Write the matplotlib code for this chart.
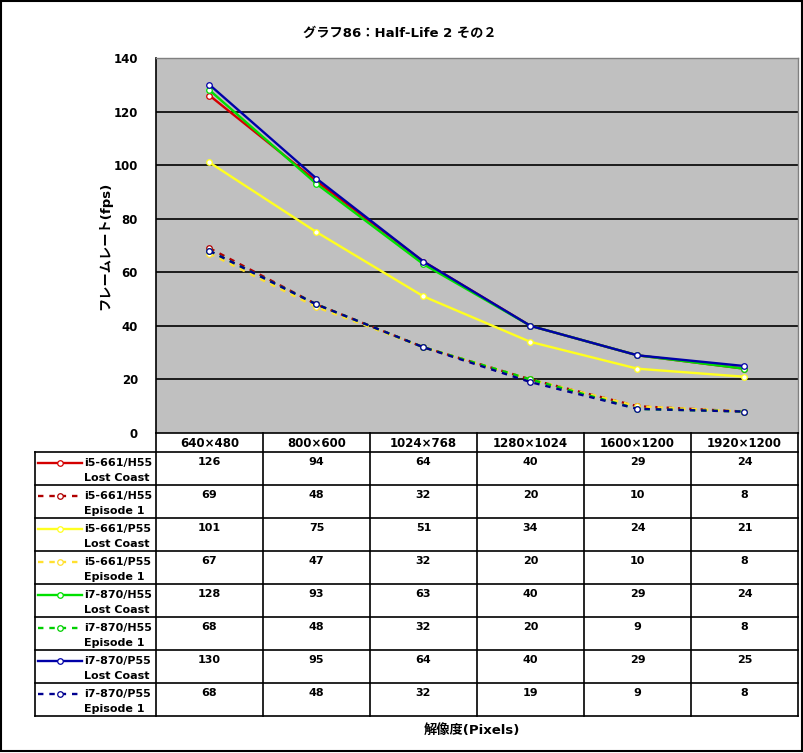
import matplotlib
matplotlib.use("Agg")
import matplotlib.pyplot as plt
from matplotlib.patches import Rectangle

plt.rcParams['font.family'] = ['DejaVu Sans', 'Noto Sans CJK JP']

title = "グラフ86：Half-Life 2 その２"
ylabel = "フレームレート(fps)"
xlabel = "解像度(Pixels)"
resolutions = ["640×480", "800×600", "1024×768", "1280×1024", "1600×1200", "1920×1200"]
series_names = [
    "i5-661/H55\nLost Coast", "i5-661/H55\nEpisode 1",
    "i5-661/P55\nLost Coast", "i5-661/P55\nEpisode 1",
    "i7-870/H55\nLost Coast", "i7-870/H55\nEpisode 1",
    "i7-870/P55\nLost Coast", "i7-870/P55\nEpisode 1",
]
i5_h55_lc = [126, 94, 64, 40, 29, 24]
i5_h55_ep1 = [69, 48, 32, 20, 10, 8]
i5_p55_lc = [101, 75, 51, 34, 24, 21]
i5_p55_ep1 = [67, 47, 32, 20, 10, 8]
i7_h55_lc = [128, 93, 63, 40, 29, 24]
i7_h55_ep1 = [68, 48, 32, 20, 9, 8]
i7_p55_lc = [130, 95, 64, 40, 29, 25]
i7_p55_ep1 = [68, 48, 32, 19, 9, 8]
series_values = [i5_h55_lc, i5_h55_ep1, i5_p55_lc, i5_p55_ep1,
                 i7_h55_lc, i7_h55_ep1, i7_p55_lc, i7_p55_ep1]
colors = ['#D40000', '#B00000', '#FFFF20', '#FFE030',
          '#00E000', '#00D000', '#0000A8', '#000090']
dash = (0, (2.3, 2.5))
styles = ['-', dash, '-', dash, '-', dash, '-', dash]

W, H = 804, 753
fig = plt.figure(figsize=(W / 100, H / 100), dpi=100)

def fx(px): return px / W
def fy(py): return 1 - py / H

L, R, T, B = 156, 798, 58, 433
ax = fig.add_axes([fx(L), fy(B), fx(R) - fx(L), fy(T) - fy(B)])
ax.set_facecolor('#C0C0C0')
xs = list(range(len(resolutions)))
ax.set_xlim(-0.5, len(resolutions) - 0.5)
ax.set_ylim(0, 140)
ax.set_yticks(range(0, 141, 20))
ax.set_yticklabels([str(v) for v in range(0, 141, 20)], fontsize=8.5, fontweight='bold')
ax.set_xticks([])
ax.tick_params(axis='y', length=0, pad=13)
for y in range(20, 140, 20):
    ax.axhline(y, color='black', lw=1.2, zorder=1)
for s in ['top', 'right']:
    ax.spines[s].set_color('#808080')
    ax.spines[s].set_linewidth(1)
ax.spines['left'].set_color('black')
ax.spines['bottom'].set_color('black')
ax.spines['left'].set_linewidth(1.2)
ax.spines['bottom'].set_linewidth(1.2)

draw_order = [1, 3, 5, 7, 2, 0, 4, 6]
for i in draw_order:
    ax.plot(xs, series_values[i], color=colors[i], linestyle=styles[i], lw=1.7,
            marker='o', markersize=4, markerfacecolor='white',
            markeredgecolor=colors[i], markeredgewidth=0.9, zorder=3)
ax.set_ylabel(ylabel, fontsize=9.5, fontweight='bold')
ax.yaxis.set_label_coords((112 - L) / (R - L), 0.5)

ov = fig.add_axes([0, 0, 1, 1], facecolor='none')
ov.set_xlim(0, W)
ov.set_ylim(H, 0)
ov.axis('off')

ov.add_patch(Rectangle((0.5, 0.5), W - 2.5, H - 2.5, fill=False, edgecolor='black', lw=1.5))
ov.text(400, 33, title, ha='center', va='center', fontsize=9.5, fontweight='bold')

ncol = len(resolutions)
cw = (R - L) / ncol
row_top = 452
rh = 33
nrows = len(series_names)
tb = row_top + rh * nrows
lk = dict(color='black', lw=1.2)
for j in range(ncol + 1):
    ov.plot([L + j * cw, L + j * cw], [B, tb], **lk)
ov.plot([35, 35], [row_top, tb], **lk)
for r in range(nrows + 1):
    ov.plot([35, R], [row_top + r * rh, row_top + r * rh], **lk)
for j, lab in enumerate(resolutions):
    ov.text(L + (j + 0.5) * cw, (B + row_top) / 2 + 1, lab, ha='center', va='center',
            fontsize=8.5, fontweight='bold')
for r in range(nrows):
    top = row_top + r * rh
    ov.plot([38, 82], [top + 11, top + 11], color=colors[r], linestyle=styles[r], lw=1.7)
    ov.plot([60], [top + 11], marker='o', markersize=4, markerfacecolor='white',
            markeredgecolor=colors[r], markeredgewidth=0.9)
    n1, n2 = series_names[r].split('\n')
    ov.text(84, top + 11, n1, ha='left', va='center', fontsize=8, fontweight='bold')
    ov.text(84, top + 26, n2, ha='left', va='center', fontsize=8, fontweight='bold')
    for j, v in enumerate(series_values[r]):
        ov.text(L + (j + 0.5) * cw, top + 10, str(v), ha='center', va='center',
                fontsize=8, fontweight='bold')

ov.text((L + R) / 2 - 5, 730, xlabel, ha='center', va='center', fontsize=9.5, fontweight='bold')

fig.savefig('out.png', dpi=100)
